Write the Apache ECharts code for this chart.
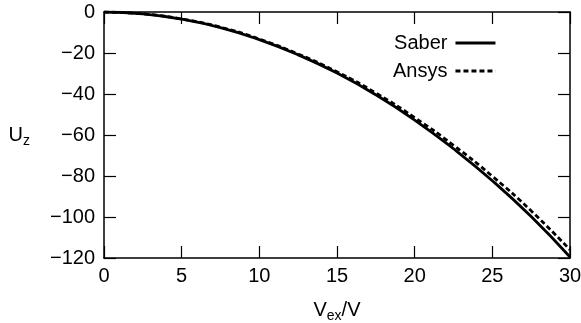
<!DOCTYPE html>
<html>
<head>
<meta charset="utf-8">
<script src="https://cdn.jsdelivr.net/npm/echarts@6/dist/echarts.min.js"></script>
<style>html,body{margin:0;padding:0;background:#fff}#c{width:581px;height:323px}</style>
</head>
<body>
<div id="c"></div>
<script>
const vex = [0, 2.5, 5, 7.5, 10, 12.5, 15, 17.5, 20, 22.5, 25, 27.5, 30];
const saber = [0, -0.9, -3.5, -7.6, -13.5, -20.9, -29.8, -40.4, -52.7, -66.7, -82.3, -99.8, -119.5];
const ansys = [0, -0.9, -3.4, -7.4, -13.2, -20.5, -29.2, -39.5, -51.5, -65.0, -80.1, -97.0, -116.0];
const xTicks = [0, 5, 10, 15, 20, 25, 30];
const yTicks = [0, -20, -40, -60, -80, -100, -120];

const font = 'Liberation Sans, Arial, Helvetica, sans-serif';
const fs = 20;
const axisCommon = {
  axisLine: {show: true, onZero: false, lineStyle: {color: '#000', width: 1.5}},
  axisTick: {show: true, inside: true, length: 12, lineStyle: {color: '#000', width: 1.2}},
  splitLine: {show: false}
};
const solidIcon = 'path://M0,0H40V3H0Z';
const dashIcon = 'path://M0,0H5V3H0Z M8,0H13V3H8Z M16,0H21V3H16Z M24,0H29V3H24Z M32,0H37V3H32Z M39.9,0H40V3H39.9Z';
const chart = echarts.init(document.getElementById('c'));
chart.setOption({
  animation: false,
  backgroundColor: '#fff',
  grid: {left: 104, right: 11, top: 12, bottom: 65, containLabel: false, outerBoundsMode: 'none'},
  legend: {
    orient: 'vertical', left: 393, top: 33, padding: 0, align: 'right',
    itemWidth: 40, itemHeight: 3, itemGap: 8,
    textStyle: {fontFamily: font, fontSize: fs, color: '#000', padding: [0, 3, 0, 0]},
    data: [{name: 'Saber', icon: solidIcon}, {name: 'Ansys', icon: dashIcon}]
  },
  xAxis: [
    Object.assign({}, axisCommon, {
      type: 'value', min: 0, max: 30, interval: 5, position: 'bottom',
      axisLabel: {fontFamily: font, fontSize: fs, color: '#000', margin: 8},
      name: '{a|V}{b|ex}{a|/V}', nameLocation: 'middle', nameGap: 39,
      nameTextStyle: {rich: {a: {fontFamily: font, fontSize: fs, color: '#000'}, b: {fontFamily: font, fontSize: 14, color: '#000', verticalAlign: 'bottom', padding: [12, 0, 0, 0]}}}
    }),
    Object.assign({}, axisCommon, {
      type: 'value', min: 0, max: 30, interval: 5, position: 'top', axisLabel: {show: false}
    })
  ],
  yAxis: [
    Object.assign({}, axisCommon, {
      type: 'value', min: -120, max: 0, interval: 20, position: 'left',
      axisLabel: {fontFamily: font, fontSize: fs, color: '#000', margin: 9,
        formatter: v => String(v).replace('-', '\u2212')},
      name: '{a|U}{b|z}', nameLocation: 'middle', nameGap: 74, nameRotate: 0,
      nameTextStyle: {rich: {a: {fontFamily: font, fontSize: fs, color: '#000'}, b: {fontFamily: font, fontSize: 14, color: '#000', padding: [12, 0, 0, 0]}}}
    }),
    Object.assign({}, axisCommon, {
      type: 'value', min: -120, max: 0, interval: 20, position: 'right', axisLabel: {show: false}
    })
  ],
  series: [
    {name: 'Saber', type: 'line', smooth: true, symbol: 'none', color: '#000',
     lineStyle: {color: '#000', width: 2.8, type: 'solid'},
     data: vex.map((x, i) => [x, saber[i]])},
    {name: 'Ansys', type: 'line', smooth: true, symbol: 'none', color: '#000',
     lineStyle: {color: '#000', width: 2.8, type: [5, 3]},
     data: vex.map((x, i) => [x, ansys[i]])}
  ]
});
</script>
</body>
</html>
